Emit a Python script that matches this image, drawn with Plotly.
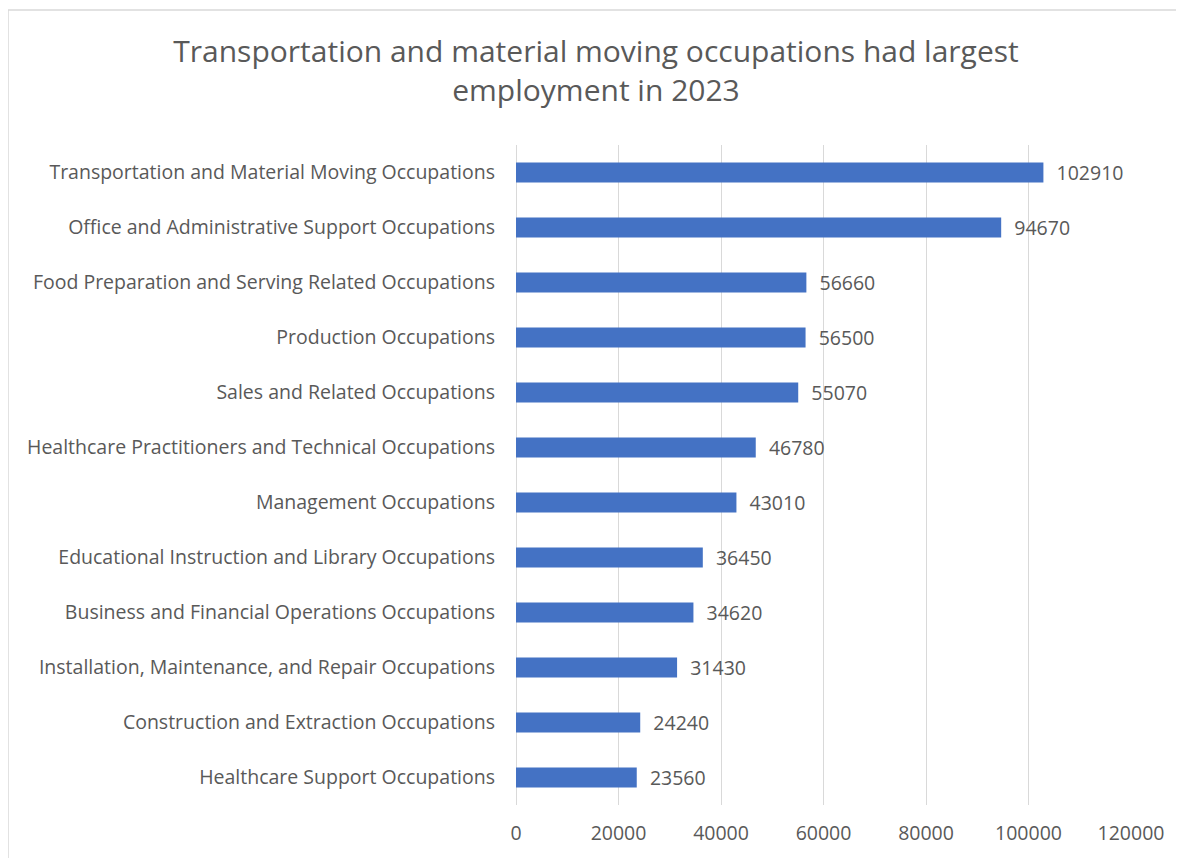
import plotly.graph_objects as go

categories = [
    "Transportation and Material Moving Occupations",
    "Office and Administrative Support Occupations",
    "Food Preparation and Serving Related Occupations",
    "Production Occupations",
    "Sales and Related Occupations",
    "Healthcare Practitioners and Technical Occupations",
    "Management Occupations",
    "Educational Instruction and Library Occupations",
    "Business and Financial Operations Occupations",
    "Installation, Maintenance, and Repair Occupations",
    "Construction and Extraction Occupations",
    "Healthcare Support Occupations",
]
employment = [102910, 94670, 56660, 56500, 55070, 46780, 43010, 36450, 34620, 31430, 24240, 23560]
x_ticks = [0, 20000, 40000, 60000, 80000, 100000, 120000]

FONT = "Open Sans"
GRAY = "#595959"

fig = go.Figure(go.Bar(
    y=categories,
    x=employment,
    orientation="h",
    marker=dict(color="#4472C4", line=dict(width=0)),
    text=[f"  {v}" for v in employment],
    textposition="outside",
    constraintext="none",
    textfont=dict(family=FONT, size=19.5, color=GRAY),
    cliponaxis=False,
))

fig.update_layout(
    width=1176, height=850,
    margin=dict(l=508, r=53, t=137, b=53),
    paper_bgcolor="white", plot_bgcolor="white",
    bargap=0.64,
    showlegend=False,
    title=dict(
        text="Transportation and material moving occupations had largest<br>employment in 2023",
        x=0.5, xref="container", xanchor="center",
        y=0.937, yref="container", yanchor="top",
        font=dict(family=FONT, size=30, color=GRAY),
    ),
    xaxis=dict(
        range=[0, 120000], tickvals=x_ticks, ticktext=[str(t) for t in x_ticks],
        showgrid=True, gridcolor="#d9d9d9", gridwidth=1,
        zeroline=True, zerolinecolor="#d9d9d9", zerolinewidth=1,
        tickfont=dict(family=FONT, size=19.5, color=GRAY),
        ticks="", showline=False, ticklabelstandoff=14,
    ),
    yaxis=dict(
        autorange="reversed",
        tickfont=dict(family=FONT, size=19.5, color=GRAY),
        ticks="", showgrid=False, showline=False,
        ticklabelstandoff=20,
    ),
    shapes=[dict(
        type="rect", xref="paper", yref="paper",
        x0=-0.826, x1=1.3, y0=-0.3, y1=1.2045,
        line=dict(color="#d9d9d9", width=1.5), layer="below",
    )],
)

fig.write_html("out.html")
